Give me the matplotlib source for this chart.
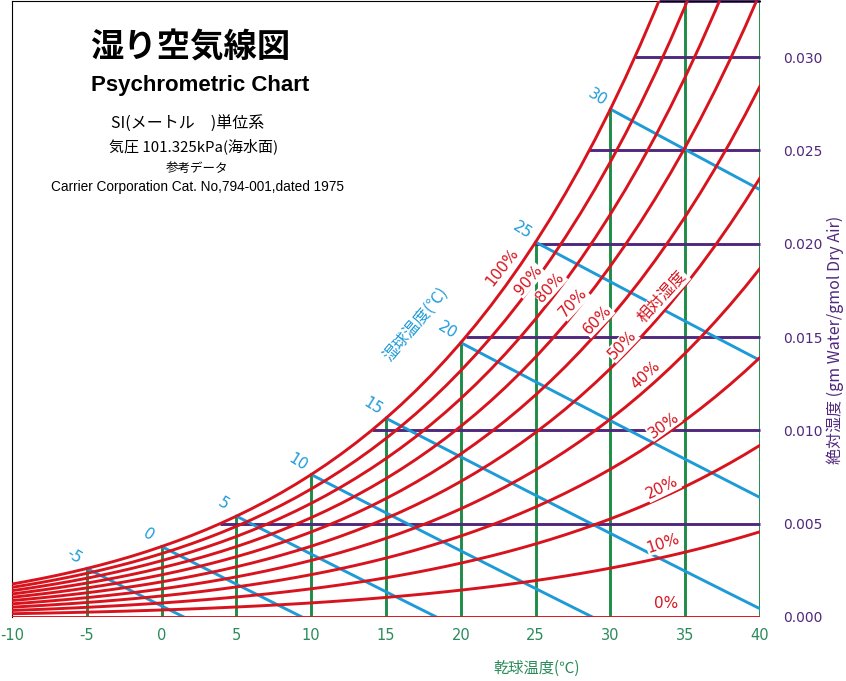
import numpy as np
import matplotlib
matplotlib.use('Agg')
import matplotlib.pyplot as plt

plt.rcParams['font.family'] = ['Noto Sans CJK JP', 'DejaVu Sans']

# 乾球温度(℃) と 飽和水蒸気圧(kPa)
temps = list(range(-10, 41))
p_sat = [0.2867, 0.3102, 0.3352, 0.3620, 0.3907, 0.4215, 0.4545, 0.4898, 0.5275, 0.5678,
         0.6112, 0.6571, 0.7060, 0.7580, 0.8135, 0.8725, 0.9352, 1.0019, 1.0728, 1.1481,
         1.2280, 1.3127, 1.4026, 1.4979, 1.5987, 1.7055, 1.8185, 1.9380, 2.0643, 2.1979,
         2.3389, 2.4878, 2.6448, 2.8105, 2.9852, 3.1693, 3.3633, 3.5674, 3.7823, 4.0084,
         4.2462, 4.4961, 4.7586, 5.0345, 5.3242, 5.6280, 5.9468, 6.2812, 6.6315, 6.9988,
         7.3838]
pressure = 101.325  # kPa

rh_levels = [0, 10, 20, 30, 40, 50, 60, 70, 80, 90, 100]
wb_temps = [-5, 0, 5, 10, 15, 20, 25, 30]
db_lines = [-5, 0, 5, 10, 15, 20, 25, 30, 35, 40]
w_lines = [0.005, 0.010, 0.015, 0.020, 0.025, 0.030, 0.033]
x_ticks = [-10, -5, 0, 5, 10, 15, 20, 25, 30, 35, 40]
y_ticks = [0.000, 0.005, 0.010, 0.015, 0.020, 0.025, 0.030]

# 相対湿度ラベル (位置, 角度)
rh_label_text = ['0%', '10%', '20%', '30%', '40%', '50%', '60%', '70%', '80%', '90%', '100%']
rh_label_t = [33.75, 33.55, 33.48, 33.55, 32.34, 30.80, 29.13, 27.53, 25.99, 24.52, 22.78]
rh_label_w = [0.00075, 0.00396, 0.00691, 0.01029, 0.01296, 0.01457, 0.01591, 0.01682, 0.01768, 0.01805, 0.01875]
rh_label_rot = [0, 18, 26, 36, 43, 46, 46, 47, 48, 50, 52]

red = '#d7141e'
blue = '#1e9bd7'
green = '#1e8c46'
purple = '#50287d'
tick_green = '#2a8a5a'

t = np.array(temps, dtype=float)
ps = np.array(p_sat)
w_sat = 0.622 * ps / (pressure - ps)


def sat_w(tt):
    return np.interp(tt, t, w_sat)


fig = plt.figure(figsize=(8.46, 6.81), dpi=100)
ax = fig.add_axes([12 / 846, 64 / 681, 748 / 846, 616 / 681])
ax.set_xlim(-10, 40)
ax.set_ylim(0, 0.033)

# 乾球温度線 (緑)
for tv in db_lines:
    ax.plot([tv, tv], [0, sat_w(tv)], color=green, lw=2.1, zorder=2, solid_capstyle='butt')

# 絶対湿度線 (紫)
for wv in w_lines:
    t_dew = np.interp(wv, w_sat, t)
    ax.plot([t_dew, 40], [wv, wv], color=purple, lw=2.1, zorder=2, clip_on=False,
            solid_capstyle='butt')

# 湿球温度線 (青)
for tw in wb_temps:
    ws = sat_w(tw)
    t_end = min(tw + (2501 - 2.326 * tw) * ws / 1.006, 40)
    tt = np.linspace(tw, t_end, 30)
    ww = ((2501 - 2.326 * tw) * ws - 1.006 * (tt - tw)) / (2501 + 1.86 * tt - 4.186 * tw)
    ax.plot(tt, np.clip(ww, 0, None), color=blue, lw=2.1, zorder=3)
    ax.annotate(str(tw), (tw, ws), xytext=(-13, 12), textcoords='offset pixels',
                ha='center', va='center', rotation=-32, color=blue, fontsize=11,
                family=['DejaVu Sans'], zorder=6)

# 相対湿度線 (赤)
for rh in rh_levels:
    pv = rh / 100 * ps
    ww = 0.622 * pv / (pressure - pv)
    ax.plot(t, ww, color=red, lw=2.1, zorder=4)

lab_box = dict(facecolor='white', edgecolor='none', pad=0.6)
for txt, lt, lw_, rot in zip(rh_label_text, rh_label_t, rh_label_w, rh_label_rot):
    ax.text(lt, lw_, txt, color=red, fontsize=11, rotation=rot, ha='center', va='center',
            rotation_mode='anchor', bbox=lab_box, zorder=5, family=['DejaVu Sans'])
ax.text(33.48, 0.01714, '相対湿度', color=red, fontsize=11.5, rotation=48, ha='center',
        va='center', rotation_mode='anchor', bbox=lab_box, zorder=5)
ax.text(17.0, 0.0157, '湿球温度(℃)', color=blue, fontsize=11.5, rotation=50, ha='center',
        va='center', rotation_mode='anchor', zorder=5)

# 軸
for side in ['bottom', 'right']:
    ax.spines[side].set_visible(False)
ax.spines['top'].set_linewidth(0.8)
ax.spines['left'].set_linewidth(0.8)
ax.set_xticks(x_ticks)
ax.set_xticklabels([str(v) for v in x_ticks], family=['DejaVu Sans'])
ax.tick_params(axis='x', length=0, pad=8, labelsize=10.5, labelcolor=tick_green)
ax.yaxis.tick_right()
ax.set_yticks(y_ticks)
ax.set_yticklabels(['%.3f' % v for v in y_ticks], family=['DejaVu Sans'])
ax.tick_params(axis='y', length=0, pad=17, labelsize=10, labelcolor=purple)

fig.text(537 / 846, 1 - 668 / 681, '乾球温度(℃)', color=tick_green, fontsize=11,
         ha='center', va='center')
fig.text(835 / 846, 1 - 340 / 681, '絶対湿度 (gm Water/gmol Dry Air)', color=purple,
         fontsize=11.5, rotation=90, ha='center', va='center')

# タイトル
fig.text(190 / 846, 1 - 48 / 681, '湿り空気線図', fontsize=24, fontweight='bold',
         ha='center', va='center')
fig.text(200 / 846, 1 - 86 / 681, 'Psychrometric Chart', fontsize=16, fontweight='bold',
         ha='center', va='center', family=['Liberation Sans', 'DejaVu Sans'])
fig.text(188 / 846, 1 - 124 / 681, 'SI(メートル　)単位系', fontsize=11.5, ha='center', va='center')
fig.text(194 / 846, 1 - 146 / 681, '気圧 101.325kPa(海水面)', fontsize=10.8, ha='center', va='center')
fig.text(197 / 846, 1 - 168 / 681, '参考データ', fontsize=9, ha='center', va='center')
fig.text(197 / 846, 1 - 187 / 681, 'Carrier Corporation Cat. No,794-001,dated 1975', fontsize=9.8,
         ha='center', va='center', family=['Liberation Sans', 'DejaVu Sans'])

fig.savefig('out.png', dpi=100, facecolor='white')
